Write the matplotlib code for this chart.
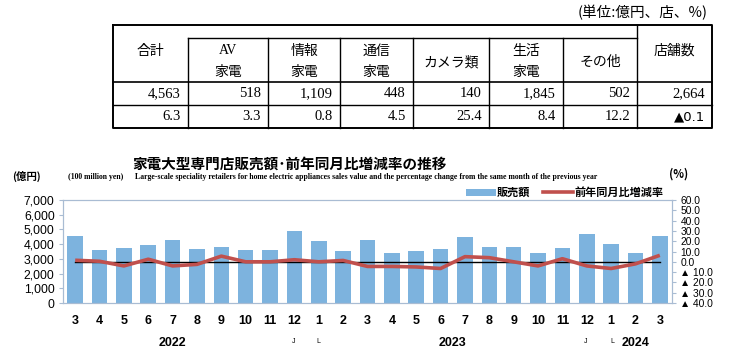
import matplotlib
matplotlib.use("Agg")
import matplotlib.pyplot as plt
import matplotlib.transforms as mtransforms
import numpy as np

# monthly series, Mar 2022 - Mar 2024
months = ['3', '4', '5', '6', '7', '8', '9', '10', '11', '12', '1', '2',
          '3', '4', '5', '6', '7', '8', '9', '10', '11', '12', '1', '2', '3']
sales = [4540, 3600, 3720, 3930, 4290, 3660, 3810, 3570, 3630, 4900, 4240, 3520,
         4293, 3430, 3540, 3680, 4490, 3790, 3790, 3430, 3750, 4720, 4000, 3430, 4563]
change = [1.5, 0.5, -4.0, 2.5, -4.0, -2.5, 5.5, 0.0, 0.0, 2.0, 0.0, 1.3,
          -4.5, -4.5, -5.0, -6.5, 5.0, 4.0, 0.0, -4.0, 3.0, -4.0, -6.5, -2.0, 6.3]
years = ['2022', '2023', '2024']

# table at the top
tbl_head = ['合計', 'AV\n家電', '情報\n家電', '通信\n家電', 'カメラ類', '生活\n家電', 'その他', '店舗数']
tbl_sales = ['4,563', '518', '1,109', '448', '140', '1,845', '502', '2,664']
tbl_change = ['6.3', '3.3', '0.8', '4.5', '25.4', '8.4', '12.2', '▲0.1']

bar_color = '#7DB3DE'
line_color = '#C0504D'
spine_color = '#A9BCD3'
jp = ['Noto Sans CJK JP', 'DejaVu Sans']
num = ['Liberation Sans', 'DejaVu Sans']
serif = ['Liberation Serif', 'Noto Sans CJK JP']

W, H = 729, 352
fig = plt.figure(figsize=(W / 100, H / 100), dpi=100)

# overlay in pixel coords for table and free text
ov = fig.add_axes([0, 0, 1, 1])
ov.set_xlim(0, W)
ov.set_ylim(H, 0)
ov.axis('off')

cols = [113, 188, 268, 340, 413, 489, 563, 637, 712]
top, sub, hb, r1, bot = 25, 38, 82, 105, 128

# outer border
ov.plot([cols[0], cols[-1], cols[-1], cols[0], cols[0]], [top, top, bot, bot, top], color='black', lw=1.4)
ov.plot([cols[1], cols[7]], [sub, sub], color='black', lw=1)
ov.plot([cols[0], cols[-1]], [hb, hb], color='black', lw=1.2)
ov.plot([cols[0], cols[-1]], [r1, r1], color='black', lw=1)
for i, c in enumerate(cols[1:-1], start=1):
    y0 = top if i == 7 else sub
    ov.plot([c, c], [y0, bot], color='black', lw=1)

for i, lab in enumerate(tbl_head):
    cx = (cols[i] + cols[i + 1]) / 2
    if '\n' in lab:
        a, b = lab.split('\n')
        ov.text(cx, 51, a, ha='center', va='center', fontsize=10, family=serif if a == 'AV' else jp)
        ov.text(cx, 72, b, ha='center', va='center', fontsize=10, family=jp)
    else:
        yy = 51 if i in (0, 7) else 62
        ov.text(cx, yy, lab, ha='center', va='center', fontsize=10, family=jp)
    ov.text(cols[i + 1] - 7, 93.5, tbl_sales[i], ha='right', va='center', fontsize=10.5, family=serif)
    ov.text(cols[i + 1] - 7, 116.5, tbl_change[i], ha='right', va='center',
            fontsize=9.5 if '▲' in tbl_change[i] else 10.5,
            family=['DejaVu Sans'] if '▲' in tbl_change[i] else serif)

ov.text(708, 13, '(単位:億円、店、%)', ha='right', va='center', fontsize=10.5, family=jp)

# chart titles
ov.text(290, 164, '家電大型専門店販売額･前年同月比増減率の推移', ha='center', va='center',
        fontsize=10.5, fontweight='bold', family=jp)
ov.text(68, 177, '(100 million yen)', ha='left', va='center', fontsize=5.6, fontweight='bold', family=serif)
ov.text(135, 177, 'Large-scale speciality retailers for home electric appliances sales value '
        'and the percentage change from the same month of the previous year',
        ha='left', va='center', fontsize=5.6, fontweight='bold', family=serif)
ov.text(26, 176, '(億円)', ha='center', va='center', fontsize=7.5, fontweight='bold', family=jp)
ov.text(679, 174, '(%)', ha='center', va='center', fontsize=8, fontweight='bold', family=jp)

# legend
ov.add_patch(plt.Rectangle((466, 189), 30, 6.5, color=bar_color, lw=0))
ov.text(497, 192, '販売額', ha='left', va='center', fontsize=8, fontweight='bold', family=jp)
ov.plot([543, 573], [192, 192], color=line_color, lw=2.6)
ov.text(575, 192, '前年同月比増減率', ha='left', va='center', fontsize=8, fontweight='bold', family=jp)

# main chart
ax = fig.add_axes([63 / W, (H - 303) / H, (672 - 63) / W, (303 - 200) / H])
x = np.arange(len(months))
ax.bar(x, sales, width=0.64, color=bar_color, zorder=2)
ax.set_xlim(-0.5, len(months) - 0.5)
ax.set_ylim(0, 7000)
ax.set_yticks(np.arange(0, 7001, 1000))
ax.set_yticklabels([f'{v:,}' for v in range(0, 7001, 1000)], fontsize=8.8, family=num)
ax.set_xticks(x)
ax.set_xticklabels(months, fontsize=9, fontweight='bold', family=num)
ax.tick_params(axis='x', length=0, pad=9)
ax.tick_params(axis='y', length=3, color=spine_color, pad=3)
for s in ax.spines.values():
    s.set_color(spine_color)

ax2 = ax.twinx()
ax2.set_ylim(-40, 60)
rt = np.arange(-40, 61, 10)
ax2.set_yticks(rt)
ax2.set_yticklabels([f'{v:.1f}' if v >= 0 else f'▲ {abs(v):.1f}' for v in rt], fontsize=7.4, family=num)
ax2.tick_params(axis='y', length=3, color=spine_color, pad=3)
for s in ax2.spines.values():
    s.set_color(spine_color)
ax2.plot([x[0], x[-1]], [0, 0], color='black', lw=1, zorder=3)
ax2.plot(x, change, color=line_color, lw=2.6, zorder=4, solid_capstyle='butt')

trans = mtransforms.blended_transform_factory(ax.transData, ax.transAxes)
for yr, xp in zip(years, [4.0, 15.5, 23.0]):
    ax.text(xp, -0.39, yr, transform=trans, ha='center', va='center', fontsize=9, fontweight='bold', family=num)
for mk, xp in zip(['J', 'L', 'J', 'L'], [8.95, 9.97, 20.97, 22.04]):
    ax.text(xp, -0.37, mk, transform=trans, ha='center', va='center', fontsize=5, family=num)

fig.savefig('out.png', dpi=100)
